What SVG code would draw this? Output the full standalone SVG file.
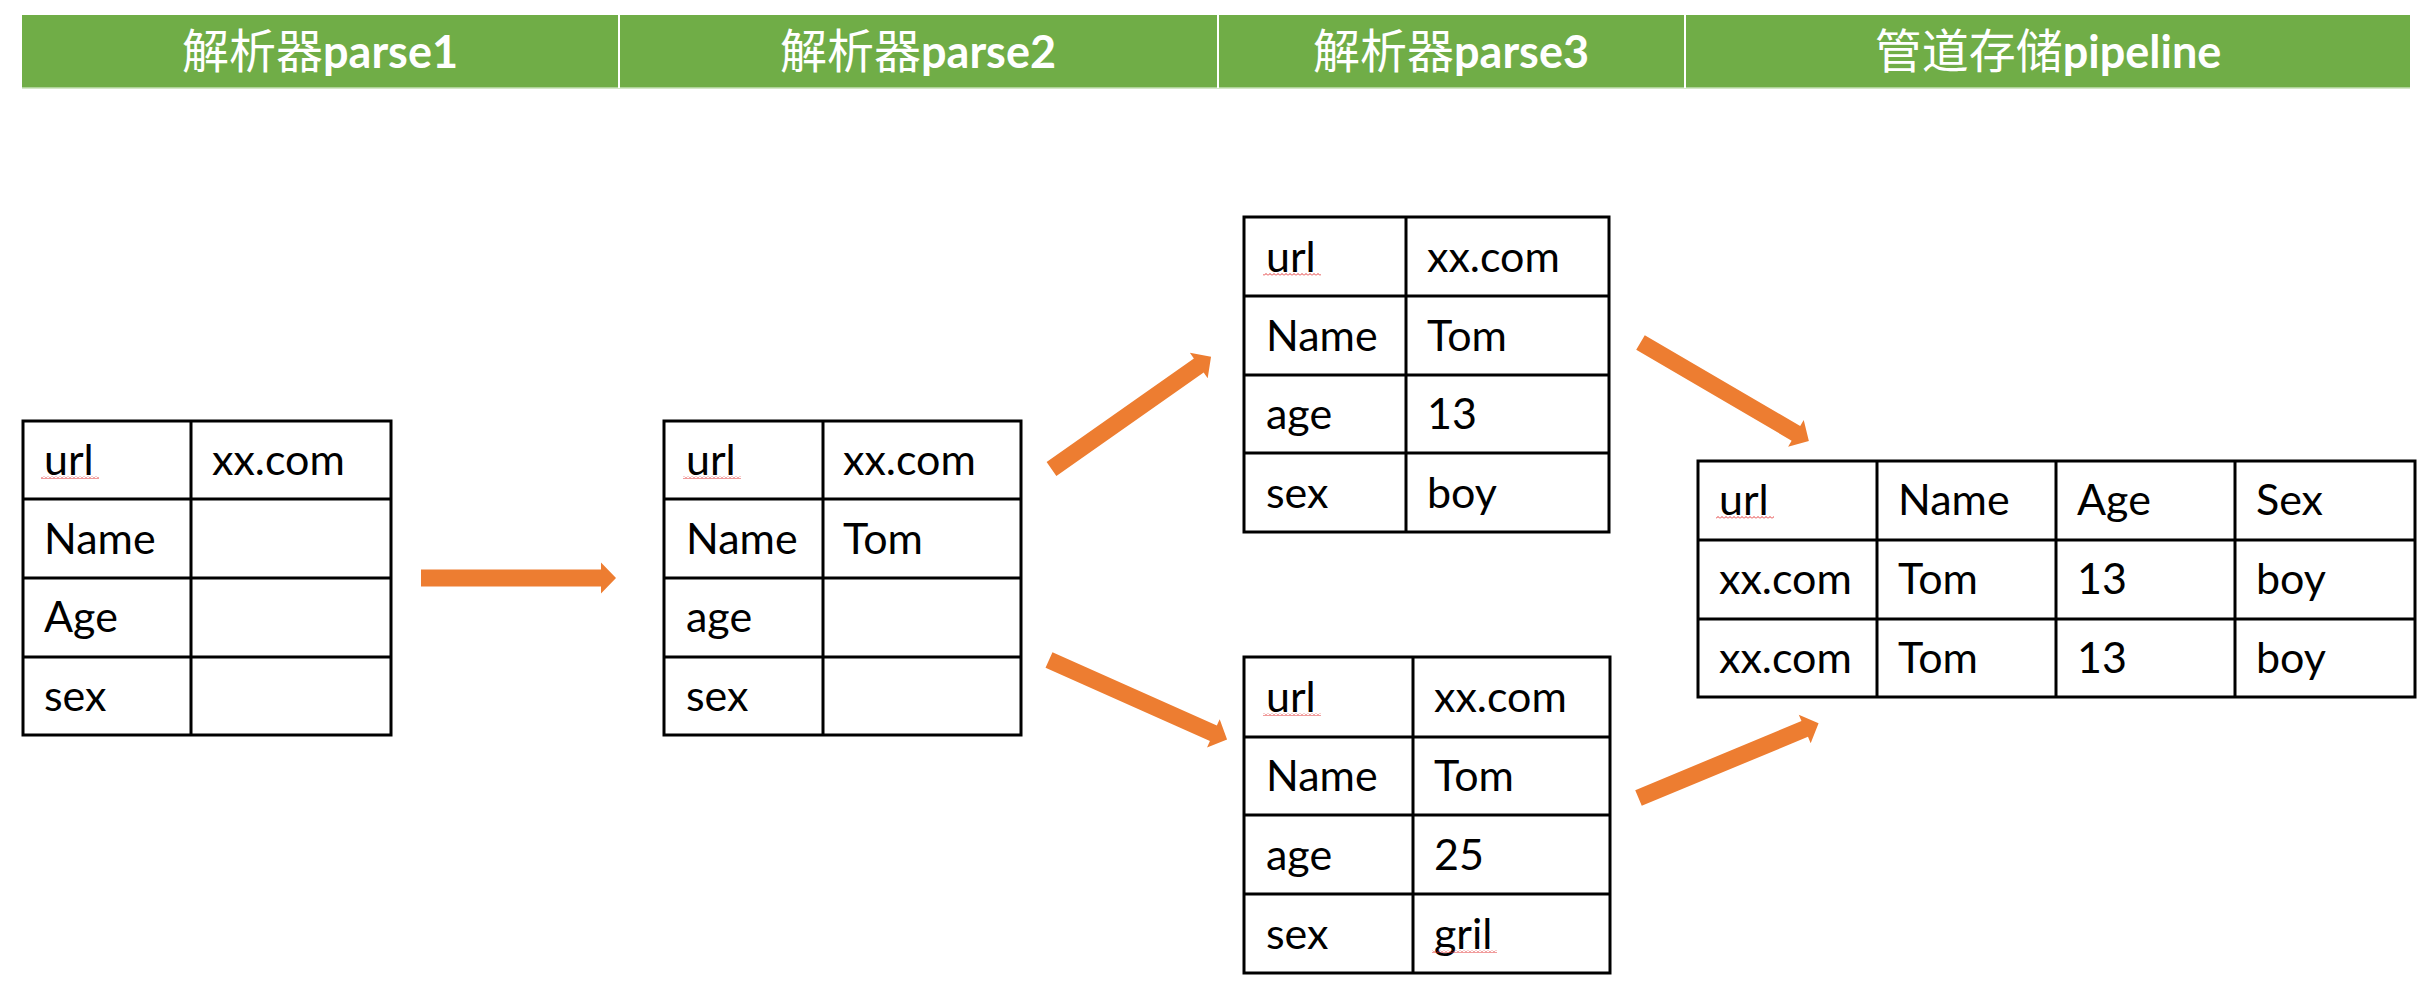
<svg xmlns="http://www.w3.org/2000/svg" width="2423" height="1001" viewBox="0 0 2423 1001">
<style>
.hdr{fill:#70AD47}
.hdiv{stroke:#FFFFFF;stroke-width:2}
.htx{fill:#FFFFFF;text-anchor:middle}
.cjk{font-family:"Noto Sans CJK SC","Noto Sans",sans-serif;font-size:47px;font-weight:400}
.lat{font-family:Lato,"Noto Sans",sans-serif;font-size:45px;font-weight:700}
.tb{fill:none;stroke:#000000;stroke-width:3}
.tl{stroke:#000000;stroke-width:3}
.t{font-family:Lato,"Liberation Sans",sans-serif;font-size:43px;fill:#000000}
.arrow{fill:#ED7D31}
.wave{fill:url(#wave)}
</style>
<defs>
<pattern id="wave" patternUnits="userSpaceOnUse" width="4" height="3">
<polyline points="0,2.5 2,0.5 4,2.5" fill="none" stroke="#E02020" stroke-width="0.9"/>
</pattern>
<path id="arr" d="M0,-8.5 H180 V-15.5 L195,0 L180,15.5 V8.5 H0 Z"/>
</defs>
<rect width="2423" height="1001" fill="#FFFFFF"/>

<g id="header">
<rect class="hdr" x="22" y="15" width="2388" height="73"/>
<line x1="22" y1="88" x2="2410" y2="88" stroke="#C5E0B4" stroke-width="1.5"/>
<line class="hdiv" x1="619" y1="15" x2="619" y2="88"/>
<line class="hdiv" x1="1218" y1="15" x2="1218" y2="88"/>
<line class="hdiv" x1="1685" y1="15" x2="1685" y2="88"/>
<text class="htx" x="320" y="68"><tspan class="cjk">解析器</tspan><tspan class="lat">parse1</tspan></text>
<text class="htx" x="918" y="68"><tspan class="cjk">解析器</tspan><tspan class="lat">parse2</tspan></text>
<text class="htx" x="1451" y="68"><tspan class="cjk">解析器</tspan><tspan class="lat">parse3</tspan></text>
<text class="htx" x="2048" y="68"><tspan class="cjk">管道存储</tspan><tspan class="lat">pipeline</tspan></text>
</g>

<g id="table-parse1">
<rect class="tb" x="23" y="421" width="368" height="314"/>
<line class="tl" x1="191" y1="421" x2="191" y2="735"/>
<line class="tl" x1="23" y1="499" x2="391" y2="499"/>
<line class="tl" x1="23" y1="578" x2="391" y2="578"/>
<line class="tl" x1="23" y1="657" x2="391" y2="657"/>
<text class="t" x="44" y="475">url</text>
<rect class="wave" x="41" y="476" width="58" height="3"/>
<text class="t" x="212" y="475">xx.com</text>
<text class="t" x="44" y="554">Name</text>
<text class="t" x="44" y="632">Age</text>
<text class="t" x="44" y="711">sex</text>
</g>

<g id="table-parse2">
<rect class="tb" x="664" y="421" width="357" height="314"/>
<line class="tl" x1="823" y1="421" x2="823" y2="735"/>
<line class="tl" x1="664" y1="499" x2="1021" y2="499"/>
<line class="tl" x1="664" y1="578" x2="1021" y2="578"/>
<line class="tl" x1="664" y1="657" x2="1021" y2="657"/>
<text class="t" x="686" y="475">url</text>
<rect class="wave" x="683" y="476" width="58" height="3"/>
<text class="t" x="843" y="475">xx.com</text>
<text class="t" x="686" y="554">Name</text>
<text class="t" x="843" y="554">Tom</text>
<text class="t" x="686" y="632">age</text>
<text class="t" x="686" y="711">sex</text>
</g>

<g id="table-parse3-a">
<rect class="tb" x="1244" y="217" width="365" height="315"/>
<line class="tl" x1="1406" y1="217" x2="1406" y2="532"/>
<line class="tl" x1="1244" y1="296" x2="1609" y2="296"/>
<line class="tl" x1="1244" y1="375" x2="1609" y2="375"/>
<line class="tl" x1="1244" y1="453" x2="1609" y2="453"/>
<text class="t" x="1266" y="272">url</text>
<rect class="wave" x="1263" y="273" width="58" height="3"/>
<text class="t" x="1427" y="272">xx.com</text>
<text class="t" x="1266" y="351">Name</text>
<text class="t" x="1427" y="351">Tom</text>
<text class="t" x="1266" y="429">age</text>
<text class="t" x="1427" y="429">13</text>
<text class="t" x="1266" y="508">sex</text>
<text class="t" x="1427" y="508">boy</text>
</g>

<g id="table-parse3-b">
<rect class="tb" x="1244" y="657" width="366" height="316"/>
<line class="tl" x1="1413" y1="657" x2="1413" y2="973"/>
<line class="tl" x1="1244" y1="737" x2="1610" y2="737"/>
<line class="tl" x1="1244" y1="815" x2="1610" y2="815"/>
<line class="tl" x1="1244" y1="894" x2="1610" y2="894"/>
<text class="t" x="1266" y="712">url</text>
<rect class="wave" x="1263" y="713" width="58" height="3"/>
<text class="t" x="1434" y="712">xx.com</text>
<text class="t" x="1266" y="791">Name</text>
<text class="t" x="1434" y="791">Tom</text>
<text class="t" x="1266" y="870">age</text>
<text class="t" x="1434" y="870">25</text>
<text class="t" x="1266" y="949">sex</text>
<text class="t" x="1434" y="949">gril</text>
<rect class="wave" x="1432" y="950" width="65" height="3"/>
</g>

<g id="table-pipeline">
<rect class="tb" x="1698" y="461" width="717" height="236"/>
<line class="tl" x1="1877" y1="461" x2="1877" y2="697"/>
<line class="tl" x1="2056" y1="461" x2="2056" y2="697"/>
<line class="tl" x1="2235" y1="461" x2="2235" y2="697"/>
<line class="tl" x1="1698" y1="540" x2="2415" y2="540"/>
<line class="tl" x1="1698" y1="619" x2="2415" y2="619"/>
<text class="t" x="1719" y="515">url</text>
<rect class="wave" x="1716" y="516" width="58" height="3"/>
<text class="t" x="1898" y="515">Name</text>
<text class="t" x="2077" y="515">Age</text>
<text class="t" x="2256" y="515">Sex</text>
<text class="t" x="1719" y="594">xx.com</text>
<text class="t" x="1898" y="594">Tom</text>
<text class="t" x="2077" y="594">13</text>
<text class="t" x="2256" y="594">boy</text>
<text class="t" x="1719" y="673">xx.com</text>
<text class="t" x="1898" y="673">Tom</text>
<text class="t" x="2077" y="673">13</text>
<text class="t" x="2256" y="673">boy</text>
</g>

<g id="connectors" class="arrow">
<use href="#arr" transform="translate(421,578)"/>
<use href="#arr" transform="translate(1051.5,469) rotate(-35.1)"/>
<use href="#arr" transform="translate(1049,660) rotate(24.05)"/>
<use href="#arr" transform="translate(1640.5,342.5) rotate(30.3)"/>
<use href="#arr" transform="translate(1638.5,798) rotate(-22.56)"/>
</g>
</svg>
